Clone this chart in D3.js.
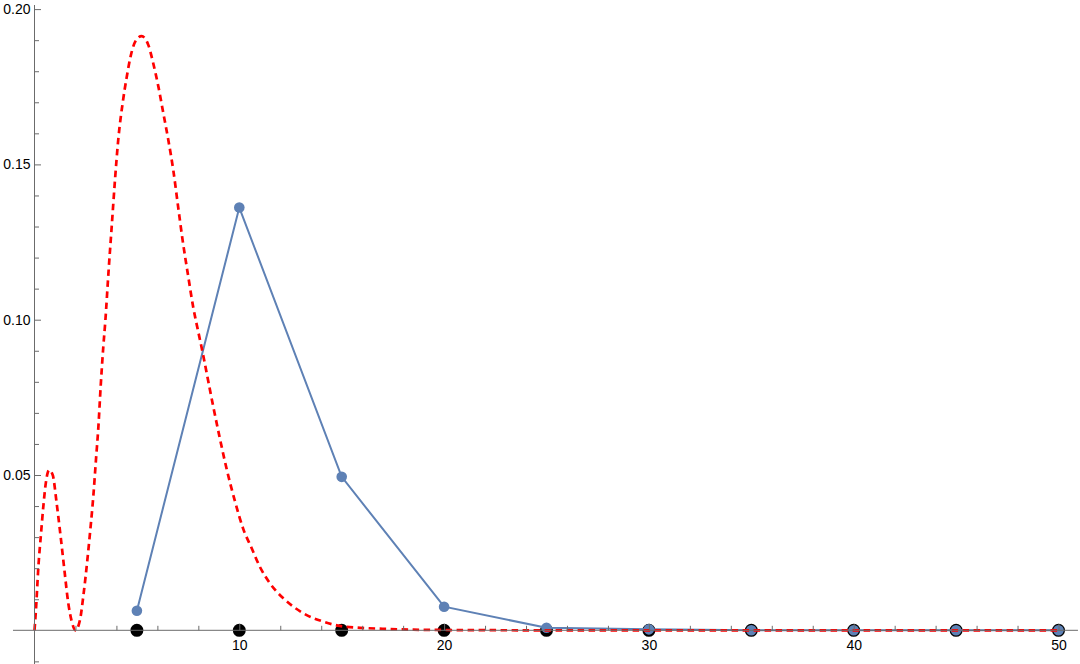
<!DOCTYPE html>
<html>
<head>
<meta charset="utf-8">
<script src="https://cdn.jsdelivr.net/npm/d3@7"></script>
<style>
  body { margin: 0; background: #fff; }
  svg { display: block; font-family: "Liberation Sans", Arial, sans-serif; }
</style>
</head>
<body>
<div id="chart"></div>
<script>
// red dashed curve
const curveX = [0, 0.07, 0.19, 0.32, 0.43, 0.55, 0.71, 0.89, 1.08, 1.28, 1.46, 1.65, 1.82, 2.0, 2.22, 2.38, 2.58, 2.74, 2.87, 3.0, 3.12, 3.23, 3.36, 3.46, 3.61, 3.77, 3.93, 4.09, 4.31, 4.5, 4.7, 4.96, 5.23, 5.56, 5.8, 6.05, 6.29, 6.53, 6.78, 7.02, 7.23, 7.51, 7.75, 8.0, 8.24, 8.49, 8.73, 9.06, 9.38, 9.79, 10.2, 10.6, 11.0, 11.5, 12.15, 12.64, 13.29, 14.1, 14.9, 15.9, 17.0, 18.5, 20, 25, 30, 40, 50];
const curveY = [0, 0.0065, 0.0205, 0.0313, 0.0398, 0.0473, 0.0516, 0.050, 0.041, 0.030, 0.0194, 0.0087, 0.0028, 0, 0.0033, 0.0108, 0.0226, 0.0334, 0.043, 0.0548, 0.0656, 0.0784, 0.0913, 0.0997, 0.115, 0.130, 0.145, 0.158, 0.170, 0.178, 0.185, 0.190, 0.1913, 0.1884, 0.1825, 0.175, 0.1665, 0.158, 0.148, 0.136, 0.1257, 0.1138, 0.104, 0.096, 0.0885, 0.080, 0.072, 0.0615, 0.052, 0.0415, 0.0325, 0.0265, 0.0205, 0.0151, 0.0103, 0.0076, 0.0049, 0.0028, 0.0014, 0.0008, 0.0005, 0.0002, 0.0001, 0, 0, 0, 0];

// blue sampled points
const sampleX = [5, 10, 15, 20, 25, 30, 35, 40, 45, 50];
const sampleY = [0.0063, 0.1361, 0.0494, 0.0076, 0.0008, 0.0003, 0, 0, 0, 0];

// black points on the axis
const baseY = [0, 0, 0, 0, 0, 0, 0, 0, 0, 0];

const xMajor = [10, 20, 30, 40, 50];
const yMajor = [0.05, 0.10, 0.15, 0.20];

const width = 1080, height = 664;
const svg = d3.select("#chart").append("svg").attr("width", width).attr("height", height);

const x = d3.scaleLinear().domain([0, 50]).range([34.5, 1058.5]);
const y = d3.scaleLinear().domain([0, 0.2]).range([630.3, 9.1]);

const axisColor = "#6b6b6b";

// black points
svg.append("g").selectAll("circle").data(sampleX).enter().append("circle")
    .attr("cx", d => x(d))
    .attr("cy", (d, i) => y(baseY[i]))
    .attr("r", 6.5)
    .attr("fill", "#000");

// blue line + points
const blue = "#5e81b5";
const pts = sampleX.map((d, i) => [d, sampleY[i]]);
svg.append("path").datum(pts)
    .attr("fill", "none")
    .attr("stroke", blue)
    .attr("stroke-width", 2)
    .attr("d", d3.line().x(d => x(d[0])).y(d => y(d[1])));
svg.append("g").selectAll("circle").data(pts).enter().append("circle")
    .attr("cx", d => x(d[0]))
    .attr("cy", d => y(d[1]))
    .attr("r", 5.3)
    .attr("fill", blue);

// red dashed curve
const curve = curveX.map((d, i) => [d, curveY[i]]);
svg.append("path").datum(curve)
    .attr("fill", "none")
    .attr("stroke", "#ff0000")
    .attr("stroke-width", 2.7)
    .attr("stroke-dasharray", "6.5,4.5")
    .attr("d", d3.line().x(d => x(d[0])).y(d => y(d[1])).curve(d3.curveMonotoneX));

// axes
const xAxisG = svg.append("g").attr("transform", `translate(0,${y(0)})`);
xAxisG.append("line")
    .attr("x1", x(-1.05)).attr("x2", x(50.95))
    .attr("stroke", axisColor).attr("stroke-width", 1);
xAxisG.call(d3.axisBottom(x).tickValues(d3.range(2, 51, 2).filter(v => v % 10 !== 0)).tickSize(-4.5).tickFormat(""))
    .call(g => g.select(".domain").remove());
const xMaj = svg.append("g").attr("transform", `translate(0,${y(0)})`)
    .call(d3.axisBottom(x).tickValues(xMajor).tickSize(-6.5).tickPadding(0).tickFormat(d3.format("d")));
xMaj.select(".domain").remove();
xMaj.selectAll(".tick text").attr("y", 10).attr("dy", "0.71em");

const yAxisG = svg.append("g").attr("transform", `translate(${x(0)},0)`);
yAxisG.append("line")
    .attr("y1", 5).attr("y2", height)
    .attr("stroke", axisColor).attr("stroke-width", 1);
const yMinor = d3.range(-1, 21).map(v => v / 100).filter(v => Math.round(v * 100) % 5 !== 0);
yAxisG.call(d3.axisLeft(y).tickValues(yMinor).tickSize(-4.5).tickFormat(""))
    .call(g => g.select(".domain").remove());
const yMaj = svg.append("g").attr("transform", `translate(${x(0)},0)`)
    .call(d3.axisLeft(y).tickValues(yMajor).tickSize(-6.5).tickPadding(0).tickFormat(d3.format(".2f")));
yMaj.select(".domain").remove();
yMaj.selectAll(".tick text").attr("x", -4);

svg.selectAll(".tick line").attr("stroke", axisColor);
svg.selectAll(".tick text").attr("fill", "#000").style("font-size", "14px").style("font-family", "'Liberation Sans', Arial, sans-serif");
</script>
</body>
</html>
